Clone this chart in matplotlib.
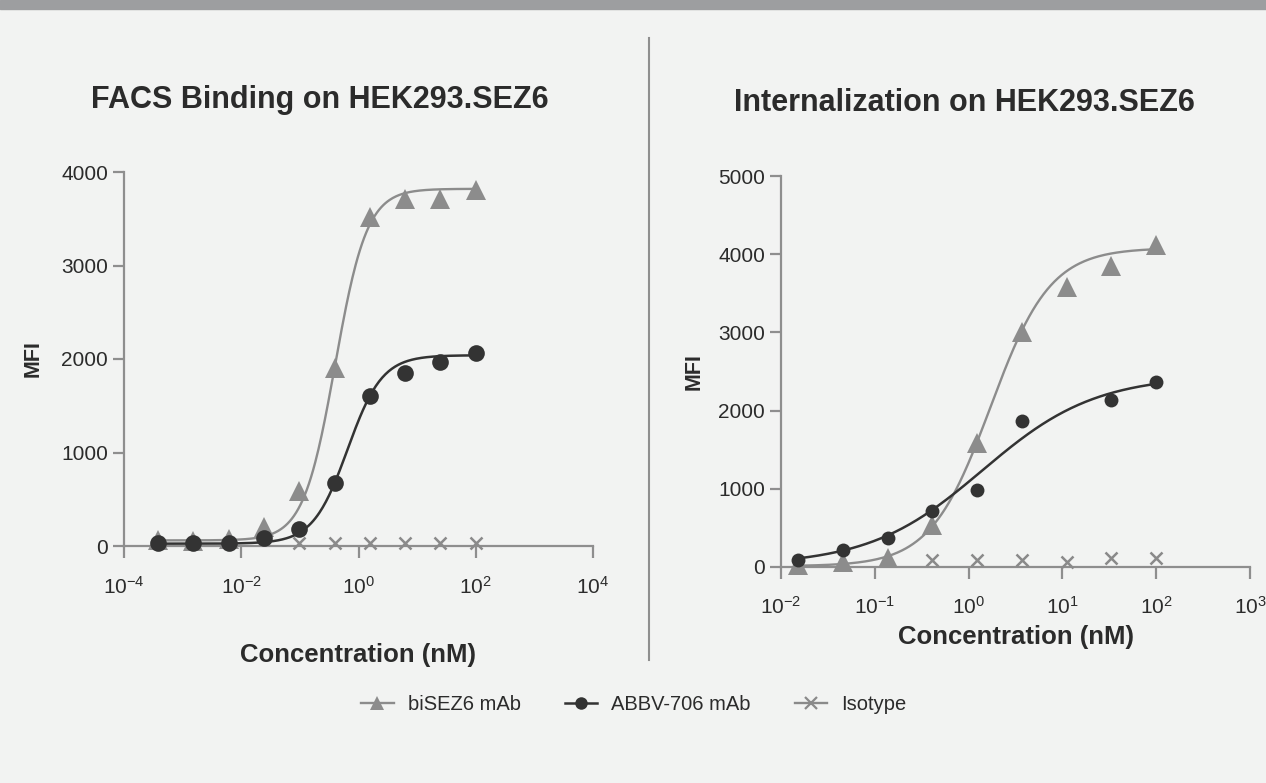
import matplotlib
matplotlib.use('Agg')
import matplotlib.pyplot as plt
from matplotlib.lines import Line2D
from matplotlib.patches import Rectangle
import numpy as np

plt.rcParams['font.family'] = ['Liberation Sans', 'DejaVu Sans']
plt.rcParams['mathtext.fontset'] = 'custom'
plt.rcParams['mathtext.rm'] = 'Liberation Sans'
plt.rcParams['mathtext.it'] = 'Liberation Sans:italic'
plt.rcParams['mathtext.bf'] = 'Liberation Sans:bold'

# FACS binding, 4-fold dilution series (nM)
facs_conc = [100, 25, 6.25, 1.5625, 0.3906, 0.0977, 0.0244, 0.0061, 0.00153, 0.00038]
facs_bisez6 = [3810, 3710, 3715, 3520, 1900, 590, 207, 70, 50, 60]
facs_abbv706 = [2060, 1965, 1855, 1600, 670, 180, 82, 36, 28, 36]
facs_iso_conc = [100, 25, 6.25, 1.5625, 0.3906, 0.0977]
facs_isotype = [30, 30, 30, 30, 30, 30]

# Internalization, 3-fold dilution series (nM)
int_conc = [100, 33.3, 11.1, 3.70, 1.23, 0.412, 0.137, 0.0457, 0.0152]
int_bisez6 = [4120, 3850, 3580, 3000, 1580, 540, 120, 70, 20]
int_abbv_conc = [100, 33.3, 3.70, 1.23, 0.412, 0.137, 0.0457, 0.0152]
int_abbv706 = [2370, 2130, 1870, 980, 710, 375, 215, 95]
int_iso_conc = [100, 33.3, 11.1, 3.70, 1.23, 0.412]
int_isotype = [110, 120, 70, 90, 90, 90]

# 4PL fit parameters: bottom, top, EC50, hill
facs_fit_bisez6 = [60, 3820, 0.40, 1.6]
facs_fit_abbv706 = [25, 2040, 0.65, 1.47]
int_fit_bisez6 = [10, 4080, 1.71, 1.36]
int_fit_abbv706 = [20, 2450, 1.40, 0.72]

c_tri = '#8c8c8c'
c_dot = '#333333'
c_iso = '#8a8a8a'
c_axis = '#8e8e8e'
c_text = '#2b2b2b'


def four_pl(x, p):
    bottom, top, ec50, hill = p
    return bottom + (top - bottom) / (1 + (ec50 / x) ** hill)


def draw_panel(ax, tri_x, tri_y, tri_fit, dot_x, dot_y, dot_fit,
               iso_x, iso_y, tri_ms, dot_ms, xpad):
    xs = np.logspace(np.log10(min(tri_x)), np.log10(max(tri_x)), 300)
    ax.plot(xs, four_pl(xs, tri_fit), color=c_tri, lw=1.7, zorder=3, clip_on=False)
    ax.plot(tri_x, tri_y, '^', color=c_tri, ms=tri_ms, mew=0, zorder=4, clip_on=False)
    xs = np.logspace(np.log10(min(dot_x)), np.log10(max(dot_x)), 300)
    ax.plot(xs, four_pl(xs, dot_fit), color=c_dot, lw=1.8, zorder=5, clip_on=False)
    ax.plot(dot_x, dot_y, 'o', color=c_dot, ms=dot_ms, mew=0, zorder=6, clip_on=False)
    ax.plot(iso_x, iso_y, 'x', color=c_iso, ms=8, mew=1.8, zorder=7, clip_on=False)

    ax.set_xscale('log')
    ax.set_facecolor('none')
    for s in ['top', 'right']:
        ax.spines[s].set_visible(False)
    for s in ['left', 'bottom']:
        ax.spines[s].set_color(c_axis)
        ax.spines[s].set_linewidth(1.6)
    ax.tick_params(axis='x', which='major', direction='out', length=8.6, width=1.6,
                   color=c_axis, pad=xpad, labelsize=15, labelcolor=c_text)
    ax.tick_params(axis='y', which='major', direction='out', length=8, width=1.6,
                   color=c_axis, pad=3.5, labelsize=15, labelcolor=c_text)
    ax.xaxis.set_minor_locator(plt.NullLocator())
    ax.set_ylabel('MFI', fontsize=15.5, fontweight='bold', color=c_text)
    ax.set_xlabel('Concentration (nM)', fontsize=18.5, fontweight='bold', color=c_text)


fig = plt.figure(figsize=(12.66, 7.83), dpi=100, facecolor='#f2f3f2')
fig.patches.append(Rectangle((0, 1 - 9 / 783), 1, 9 / 783, transform=fig.transFigure,
                             color='#9d9ea0', zorder=0))
fig.add_artist(Line2D([649 / 1266, 649 / 1266], [1 - 38 / 783, 1 - 660 / 783],
                      color='#8f8f8f', lw=1.5))

# left panel
ax1 = fig.add_axes([124 / 1266, 1 - 546 / 783, 469 / 1266, 374 / 783])
draw_panel(ax1, facs_conc, facs_bisez6, facs_fit_bisez6, facs_conc, facs_abbv706,
           facs_fit_abbv706, facs_iso_conc, facs_isotype, 14, 12, 13)
ax1.set_xlim(1e-4, 1e4)
ax1.set_ylim(0, 4000)
ax1.set_xticks([1e-4, 1e-2, 1e0, 1e2, 1e4])
ax1.set_xticklabels([r'$\mathdefault{10^{-4}}$', r'$\mathdefault{10^{-2}}$',
                     r'$\mathdefault{10^{0}}$', r'$\mathdefault{10^{2}}$',
                     r'$\mathdefault{10^{4}}$'])
ax1.set_yticks([0, 1000, 2000, 3000, 4000])
ax1.xaxis.set_label_coords(0.5, -0.26)
ax1.yaxis.set_label_coords(-0.172, 0.5)
fig.text(320 / 1266, 1 - 100 / 783, 'FACS Binding on HEK293.SEZ6', fontsize=22,
         fontweight='bold', color=c_text, ha='center', va='center')

# right panel
ax2 = fig.add_axes([781 / 1266, 1 - 567 / 783, 469 / 1266, 391 / 783])
draw_panel(ax2, int_conc, int_bisez6, int_fit_bisez6, int_abbv_conc, int_abbv706,
           int_fit_abbv706, int_iso_conc, int_isotype, 14, 10, 12)
ax2.set_xlim(1e-2, 1e3)
ax2.set_ylim(0, 5000)
ax2.set_xticks([1e-2, 1e-1, 1e0, 1e1, 1e2, 1e3])
ax2.set_xticklabels([r'$\mathdefault{10^{-2}}$', r'$\mathdefault{10^{-1}}$',
                     r'$\mathdefault{10^{0}}$', r'$\mathdefault{10^{1}}$',
                     r'$\mathdefault{10^{2}}$', r'$\mathdefault{10^{3}}$'])
ax2.set_yticks([0, 1000, 2000, 3000, 4000, 5000])
ax2.xaxis.set_label_coords(0.5, -0.148)
ax2.yaxis.set_label_coords(-0.162, 0.5)
fig.text(964 / 1266, 1 - 103 / 783, 'Internalization on HEK293.SEZ6', fontsize=22,
         fontweight='bold', color=c_text, ha='center', va='center')

handles = [
    Line2D([], [], color=c_tri, marker='^', ms=10, mew=0, lw=1.7),
    Line2D([], [], color=c_dot, marker='o', ms=9, mew=0, lw=1.8),
    Line2D([], [], color=c_iso, marker='x', ms=8, mew=1.6, lw=1.7),
]
fig.legend(handles, ['biSEZ6 mAb', 'ABBV-706 mAb', 'Isotype'], loc='center',
           bbox_to_anchor=(634 / 1266, 1 - 705 / 783), ncol=3, frameon=False,
           fontsize=14.5, handlelength=1.6, handletextpad=0.7, columnspacing=2.2,
           labelcolor=c_text)

fig.savefig('out.png', dpi=100, facecolor=fig.get_facecolor())
